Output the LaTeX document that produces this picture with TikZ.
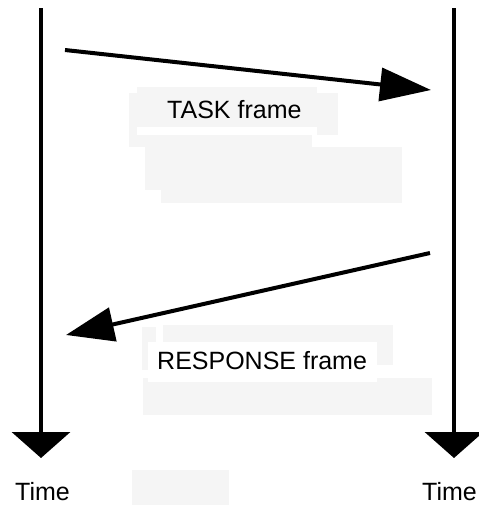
\documentclass[tikz,border=0pt]{standalone}
\usepackage{fontspec}
\setmainfont{Liberation Sans}
\usetikzlibrary{arrows.meta}
\begin{document}
\begin{tikzpicture}[x=1pt,y=-1pt,
  timeline/.style={line width=4pt,-{Triangle[length=26pt,width=58pt]}},
  msg/.style={line width=4pt},
  shade/.style={fill=black!4,draw=none},
  lbl/.style={anchor=base west,inner sep=0pt,font=\fontsize{25}{30}\selectfont}]
  \useasboundingbox (0,0) rectangle (479,506);
  \clip (0,0) rectangle (479,506);
  % faint boxes
  \fill[shade] (137,87) rectangle (317,127);
  \fill[shade] (317,93) rectangle (338,135);
  \fill[shade] (129,93) rectangle (137,147);
  \fill[shade] (135,135) rectangle (312,147);
  \fill[shade] (145,147) rectangle (402,190);
  \fill[shade] (161,190) rectangle (402,203);
  \fill[shade] (142,327) rectangle (156,370);
  \fill[shade] (163,325) rectangle (393,365);
  \fill[shade] (143,378) rectangle (432,415);
  \fill[shade] (132,470) rectangle (229,505);
  \fill[white] (148,342) rectangle (377,382);
  % time lines
  \coordinate (ltop) at (41,8);
  \coordinate (lbot) at (41,458);
  \coordinate (rtop) at (454,8);
  \coordinate (rbot) at (454,458);
  \draw[timeline] (ltop) -- (lbot);
  \draw[timeline] (rtop) -- (rbot);
  % frames
  \coordinate (taskA) at (65,50);
  \coordinate (taskB) at (431,90);
  \coordinate (respA) at (430,253);
  \coordinate (respB) at (66,335);
  \draw[msg,-{Triangle[length=51pt,width=33pt]}] (taskA) -- (taskB);
  \draw[msg,-{Triangle[length=48pt,width=34pt]}] (respA) -- (respB);
  \node[lbl] (task) at (167,118) {TASK frame};
  \node[lbl] (resp) at (157,369) {RESPONSE frame};
  \node[lbl] (ltime) at (15,500) {Time};
  \node[lbl] (rtime) at (422,500) {Time};
\end{tikzpicture}
\end{document}
